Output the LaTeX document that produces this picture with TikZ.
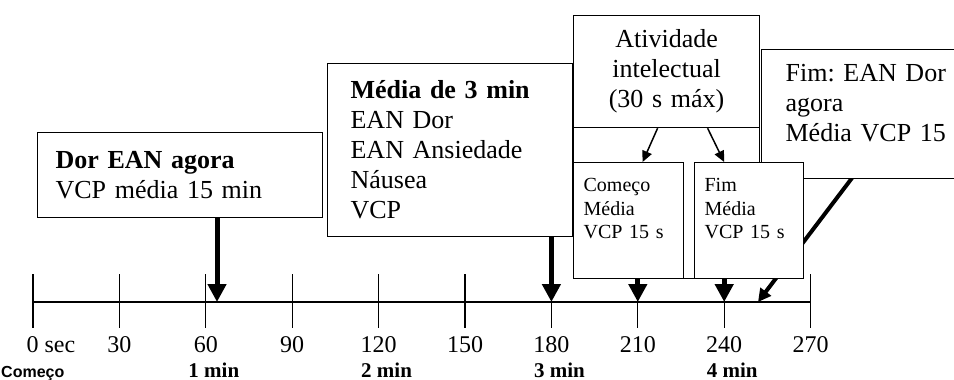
\documentclass[tikz,border=0pt]{standalone}
\usepackage{fontspec}
\setmainfont{Liberation Serif}
\setsansfont{Liberation Sans}
\usetikzlibrary{positioning,arrows.meta}
\frenchspacing

\begin{document}
\begin{tikzpicture}[x=1pt,y=-1pt,
  box/.style={draw,line width=1.2pt,fill=white,anchor=north west,inner ysep=0pt,align=left},
  bigtext/.style={font=\fontsize{26}{30}\selectfont},
  smalltext/.style={font=\fontsize{20}{23.5}\selectfont},
  axistext/.style={font=\fontsize{24}{28}\selectfont},
  fatarrow/.style={line width=5pt,-{Triangle[width=18pt,length=18pt]}},
  thinarrow/.style={line width=1.5pt,-{Triangle[width=10pt,length=11pt]}}]

\clip (0,0) rectangle (954,380);

% time axis, one tick every 30 s
\draw[line width=1.2pt] (33,302) -- (811,302);
\foreach \i/\s in {0/0,1/30,2/60,3/90,4/120,5/150,6/180,7/210,8/240,9/270} {
  \draw[line width=1.2pt] ({33+86.4*\i},274) -- ({33+86.4*\i},328);
  \coordinate (t\s) at ({33+86.4*\i},302);
}
\foreach \i/\s in {1/30,2/60,3/90,4/120,5/150,6/180,7/210,8/240,9/270} {
  \node[axistext] (l\s) at ({33+86.4*\i},345) {\s};
}
\node[axistext,anchor=west] (l0) at (23,345) {0 sec};

% minutes under the axis
\node[font=\sffamily\bfseries\fontsize{16}{18}\selectfont,anchor=base west,inner sep=1pt] (comecoaxis) at (0,377) {Começo};
\foreach \m/\s in {1/60,2/120,3/180,4/240} {
  \node[font=\bfseries\fontsize{21}{24}\selectfont,anchor=base,inner sep=1pt] (m\m) at ([xshift=8pt,yshift=-75pt]t\s) {\m{} min};
}

% first box at one minute
\node[box,bigtext,text width=249pt,inner xsep=18pt,minimum height=85pt] (dor) at (37,132)
  {\textbf{Dor EAN agora}\\VCP média 15 min};
\coordinate (p60) at (217,302);
\draw[fatarrow] (dor.south -| p60) -- (p60);

% three minute average
\node[box,bigtext,text width=199pt,inner xsep=23pt,minimum height=173pt] (media) at (327,63)
  {\textbf{Média de 3 min}\\EAN Dor\\EAN Ansiedade\\Náusea\\VCP};
\draw[fatarrow] (media.south -| t180) -- (t180);

% intellectual task group
\node[box,minimum width=186pt,minimum height=263pt,inner sep=0pt] (grupo) at (573,15) {};
\node[box,bigtext,align=center,text width=186pt,inner xsep=0pt,minimum height=112pt] (ativ) at (573,15)
  {Atividade\\intelectual\\(30 s máx)};

% end rating, line runs behind the Fim box
\coordinate (q1) at (852,178);
\coordinate (p255) at (758,302);
\draw[line width=4pt,-{Triangle[width=13pt,length=13pt]}] (q1) -- (p255);
\node[box,bigtext,text width=212pt,inner xsep=24pt,minimum height=129pt,text depth=82pt] (fimean) at (761,49)
  {Fim: EAN Dor\\agora\\Média VCP 15};

\node[box,smalltext,text width=90pt,inner xsep=10pt,minimum height=116pt] (comeco) at (573,162)
  {Começo\\Média\\VCP 15 s\\~};
\node[box,smalltext,text width=89pt,inner xsep=10pt,minimum height=116pt] (fim) at (694,162)
  {Fim\\Média\\VCP 15 s\\~};

\draw[thinarrow] ([xshift=-9pt]ativ.south) -- ([xshift=14pt]comeco.north);
\draw[thinarrow] ([xshift=41pt]ativ.south) -- ([xshift=-25pt]fim.north);
\draw[fatarrow] (comeco.south -| t210) -- (t210);
\draw[fatarrow] (fim.south -| t240) -- (t240);

\end{tikzpicture}
\end{document}
